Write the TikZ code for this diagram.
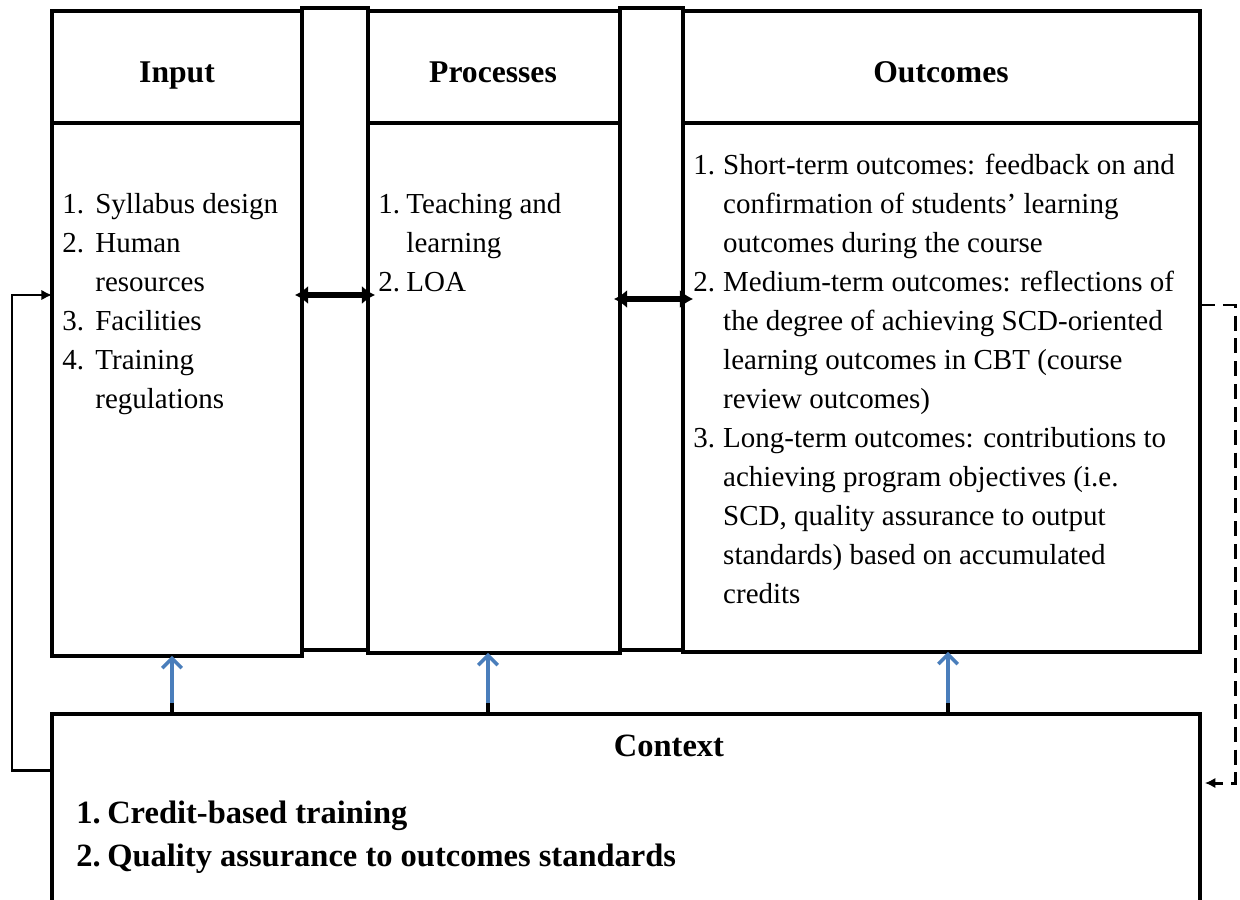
\documentclass[tikz,border=0pt]{standalone}
\usepackage{fontspec}
\setmainfont{Liberation Serif}
\usetikzlibrary{arrows.meta}
\definecolor{officeblue}{RGB}{74,126,187}
\begin{document}
\begin{tikzpicture}[x=0.02cm,y=-0.02cm,
  box/.style={draw, line width=1.9pt, inner sep=0pt, outer sep=0pt},
  sepline/.style={line width=1.9pt},
  head/.style={anchor=base, inner sep=0pt, font=\fontsize{18}{22}\selectfont\bfseries},
  txt/.style={anchor=base west, inner sep=0pt, font=\fontsize{16.5}{22.2}\selectfont},
  ctxtxt/.style={anchor=base west, inner sep=0pt, font=\fontsize{18.5}{25}\selectfont\bfseries},
  dblarrow/.style={line width=3pt, {Latex[length=7.5pt,width=10.5pt]}-{Latex[length=7.5pt,width=10.5pt]}},
  uparrow/.style={officeblue, line width=2pt, -{Straight Barb[length=5.5pt,width=11pt]}},
  fback/.style={line width=1.7pt, -{Latex[length=6pt,width=6pt]}},
  dfback/.style={line width=1.7pt, dash pattern=on 8.5pt off 4.5pt, -{Latex[length=6pt,width=6pt]}}
]
\useasboundingbox (0,0) rectangle (1240,899);
\begin{scope}
\clip (0,0) rectangle (1240,899);
% strips between boxes
\node[box, minimum width=1.32cm, minimum height=12.84cm] (strip1) at (335,329) {};
\node[box, minimum width=1.26cm, minimum height=12.84cm] (strip2) at (651.5,329) {};
% main boxes
\node[box, fill=white, minimum width=5cm, minimum height=12.9cm] (input) at (177,333.5) {};
\node[box, fill=white, minimum width=5.04cm, minimum height=12.84cm] (proc) at (494,332) {};
\node[box, fill=white, minimum width=10.34cm, minimum height=12.82cm] (outc) at (941.5,331.5) {};
\node[box, minimum width=22.96cm, minimum height=3.92cm] (ctx) at (626,812) {};
\end{scope}

% header separators
\coordinate (hy) at (0,123);
\draw[sepline] (input.west |- hy) -- (input.east |- hy);
\draw[sepline] (proc.west |- hy) -- (proc.east |- hy);
\draw[sepline] (outc.west |- hy) -- (outc.east |- hy);

% headers
\node[head] (hin) at (177,82) {Input};
\node[head] (hpr) at (493,82) {Processes};
\node[head] (hou) at (941,82) {Outcomes};
\node[head, font=\fontsize{18.5}{22}\selectfont\bfseries] (hctx) at (669,756) {Context};

% lists
\node[txt] (lin) at (62,213) {\begin{tabular}[t]{@{}p{18.8pt}@{}l@{}}
1. & Syllabus design\\
2. & Human\\
   & resources\\
3. & Facilities\\
4. & Training\\
   & regulations
\end{tabular}};

\node[txt] (lpr) at (378,213) {\begin{tabular}[t]{@{}p{16pt}@{}l@{}}
1. & Teaching and\\
   & learning\\
2. & LOA
\end{tabular}};

\node[txt] (lou) at (693,174) {\begin{tabular}[t]{@{}p{17pt}@{}l@{}}
1. & Short-term outcomes: feedback on and\\
   & confirmation of students' learning\\
   & outcomes during the course\\
2. & Medium-term outcomes: reflections of\\
   & the degree of achieving SCD-oriented\\
   & learning outcomes in CBT (course\\
   & review outcomes)\\
3. & Long-term outcomes: contributions to\\
   & achieving program objectives (i.e.\\
   & SCD, quality assurance to output\\
   & standards) based on accumulated\\
   & credits
\end{tabular}};

\node[ctxtxt] (lctx) at (76,823) {\begin{tabular}[t]{@{}p{17.6pt}@{}l@{}}
1. & Credit-based training\\
2. & Quality assurance to outcomes standards
\end{tabular}};

% double arrows between boxes
\coordinate (a1) at (0,295);
\coordinate (a2) at (0,299);
\draw[dblarrow] ([xshift=-0.14cm]input.east |- a1) -- ([xshift=0.14cm]proc.west |- a1);
\draw[dblarrow] ([xshift=-0.12cm]proc.east |- a2) -- ([xshift=0.2cm]outc.west |- a2);

% context arrows up
\coordinate (u1) at (172,0);
\coordinate (u2) at (488,0);
\coordinate (u3) at (948,0);
\draw[uparrow] (ctx.north -| u1) -- (input.south -| u1);
\draw[uparrow] (ctx.north -| u2) -- (proc.south -| u2);
\draw[uparrow] (ctx.north -| u3) -- (outc.south -| u3);
\draw[line width=2pt] (ctx.north -| u1) -- ++(0,-11);
\draw[line width=2pt] (ctx.north -| u2) -- ++(0,-11);
\draw[line width=2pt] (ctx.north -| u3) -- ++(0,-11);

% feedback left
\coordinate (lf) at (12,770);
\draw[fback] (ctx.west |- lf) -- (lf) |- (input.west |- a1);

% feedback right (dashed)
\coordinate (rd1) at (1235,305);
\coordinate (rd2) at (1235,783);
\draw[dfback] (outc.east |- rd1) -- (rd1) -- (rd2) -- ([xshift=5*0.02cm]ctx.east |- rd2);
\end{tikzpicture}
\end{document}
